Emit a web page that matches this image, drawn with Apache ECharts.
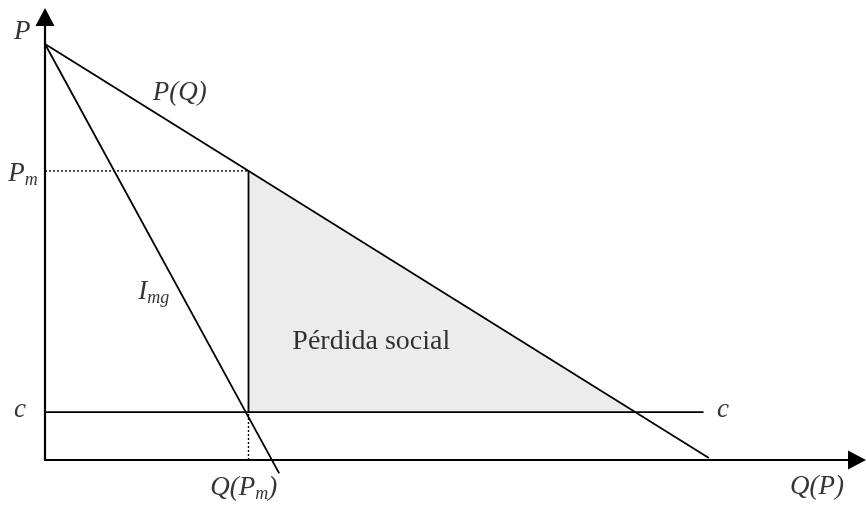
<!DOCTYPE html>
<html>
<head>
<meta charset="utf-8">
<title>Pérdida social</title>
<script src="https://cdn.jsdelivr.net/npm/echarts@6/dist/echarts.min.js"></script>
<style>
  html, body { margin: 0; padding: 0; background: #fff; }
  #chart { width: 866px; height: 505px; }
</style>
</head>
<body>
<div id="chart"></div>
<script>
// valores (Q horizontal, P vertical)
const demandQ = [0, 99.5]
const demandP = [100, 0.5]
const imgQ = [0, 35.1]
const imgP = [100, -3.2]
const Pm = 69.5
const Qm = 30.5
const c = 11.5
const Qc = 88.5      // donde P(Q) corta a c
const cLineEnd = 98.7

// textos y su posición en unidades de los ejes
const labelTexts = [
  '{it|P}',
  '{it|P(Q)}',
  '{it|P}{sub|m}',
  '{it|I}{sub|mg}',
  '{it|c}',
  '{it|c}',
  '{it|Q(P}{sub|m}{it|)}',
  '{it|Q(P)}',
  '{rm|Pérdida social}'
]
const labelQ = [-3.4, 20.2, -3.3, 16.3, -3.75, 101.6, 29.8, 115.7, 48.9]
const labelP = [102.9, 88.2, 68.8, 40.3, 12.0, 12.0, -6.8, -6.5, 28.4]

const serif = '"Liberation Serif", "Times New Roman", serif'
const noBorder = { textBorderWidth: 0, textBorderColor: 'transparent', textShadowBlur: 0 }
const rich = {
  it: { fontFamily: serif, fontStyle: 'italic', fontSize: 27, color: '#000', ...noBorder },
  sub: { fontFamily: serif, fontStyle: 'italic', fontSize: 18, color: '#000', padding: [12, 0, 0, 0], ...noBorder },
  rm: { fontFamily: serif, fontSize: 28, color: '#000', ...noBorder }
}

const pairs = (xs, ys) => xs.map((x, i) => [x, ys[i]])
const black = { color: '#000', width: 1.8 }
const dotted = { color: '#000', width: 1.4, type: [2, 2] }

const chart = echarts.init(document.getElementById('chart'))

const option = {
  animation: false,
  backgroundColor: '#fff',
  grid: { left: 45, right: 9, top: 17, bottom: 45 },
  xAxis: {
    type: 'value',
    min: 0,
    max: 121.7,
    axisLine: { lineStyle: { color: '#000', width: 2.2 }, symbol: ['none', 'triangle'], symbolSize: [19, 18] },
    axisTick: { show: false },
    axisLabel: { show: false },
    splitLine: { show: false }
  },
  yAxis: {
    type: 'value',
    min: 0,
    max: 106.5,
    axisLine: { show: true, lineStyle: { color: '#000', width: 2.2 }, symbol: ['none', 'triangle'], symbolSize: [19, 18] },
    axisTick: { show: false },
    axisLabel: { show: false },
    splitLine: { show: false }
  },
  series: [
    {
      // triángulo de pérdida social
      type: 'line',
      data: [[Qm, Pm], [Qc, c]],
      showSymbol: false,
      lineStyle: { width: 0 },
      areaStyle: { color: '#ececec', opacity: 1, origin: c },
      z: 1
    },
    {
      type: 'line',
      data: pairs(demandQ, demandP),
      showSymbol: false,
      lineStyle: black,
      z: 3
    },
    {
      type: 'line',
      data: pairs(imgQ, imgP),
      showSymbol: false,
      clip: false,
      lineStyle: black,
      z: 3
    },
    {
      type: 'line',
      data: [[0, c], [cLineEnd, c]],
      showSymbol: false,
      lineStyle: black,
      z: 3
    },
    {
      type: 'line',
      data: [[Qm, c], [Qm, Pm]],
      showSymbol: false,
      lineStyle: black,
      z: 3
    },
    {
      type: 'line',
      data: [[0, Pm], [Qm, Pm]],
      showSymbol: false,
      lineStyle: dotted,
      z: 2
    },
    {
      type: 'line',
      data: [[Qm, 0], [Qm, c]],
      showSymbol: false,
      lineStyle: dotted,
      z: 2
    },
    {
      // rótulos
      type: 'scatter',
      clip: false,
      symbolSize: 1,
      itemStyle: { color: 'transparent' },
      silent: true,
      data: labelTexts.map((t, i) => ({ value: [labelQ[i], labelP[i]], name: t })),
      label: {
        show: true,
        position: 'inside',
        color: '#000',
        ...noBorder,
        formatter: (p) => p.name,
        rich: rich
      },
      z: 5
    }
  ]
}

chart.setOption(option)

window.addEventListener('resize', () => chart.resize())
</script>
</body>
</html>
